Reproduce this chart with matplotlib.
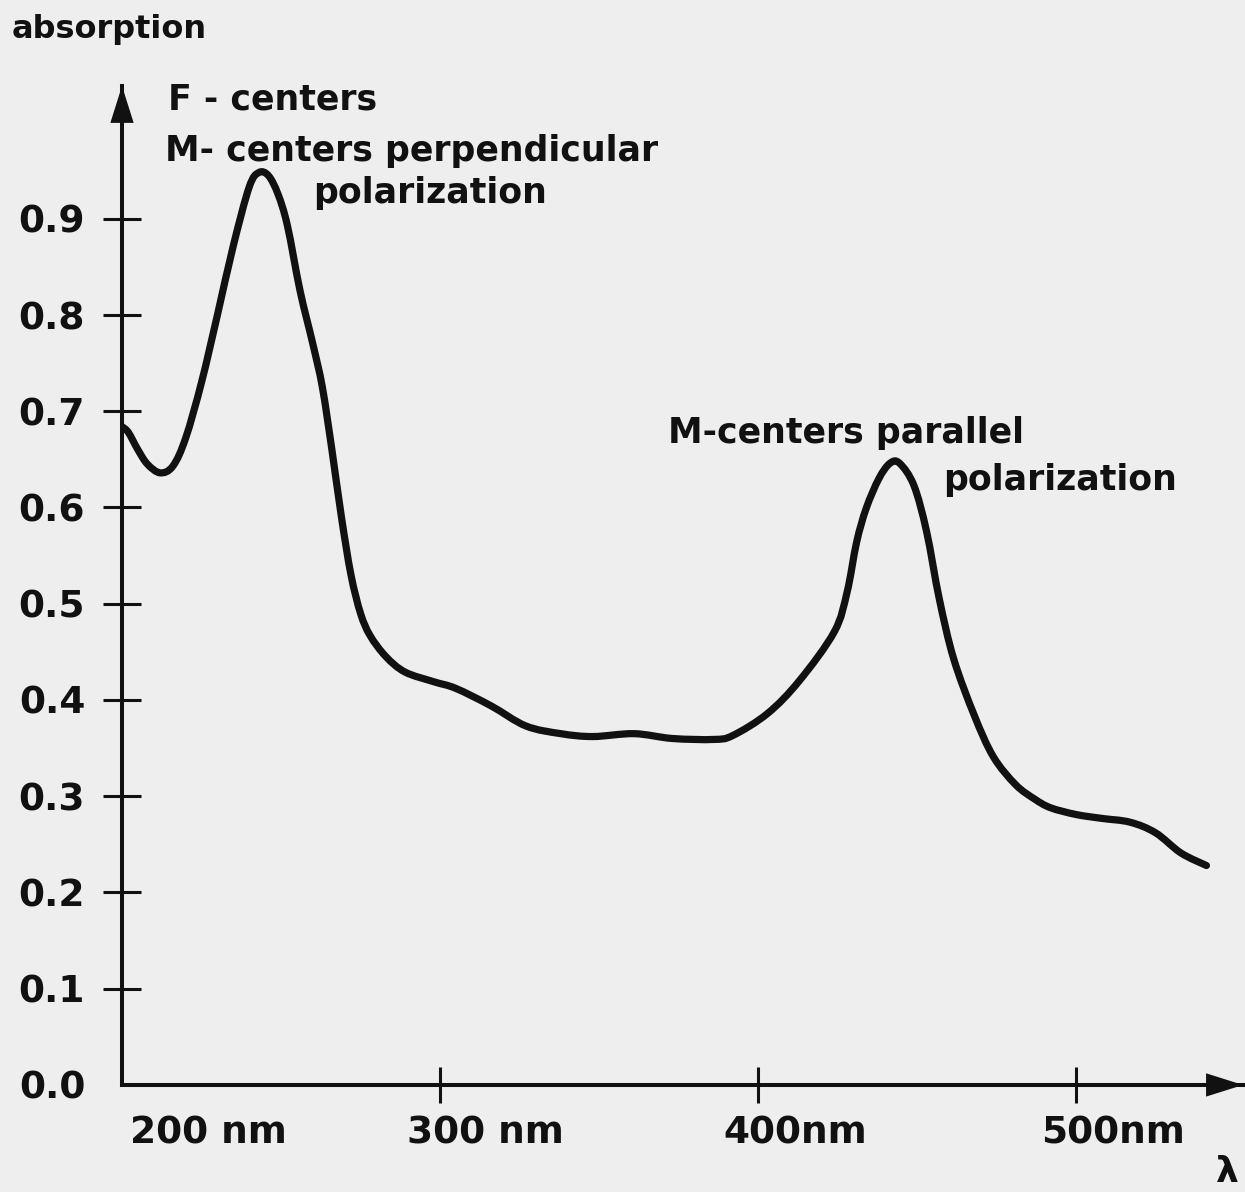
import matplotlib
matplotlib.use('Agg')
import numpy as np
import matplotlib.pyplot as plt
import matplotlib.transforms as mtransforms
from matplotlib.path import Path
from matplotlib.patches import PathPatch

plt.rcParams['font.family'] = ['DejaVu Sans']

# ---------- data ----------
wavelength_nm = [200, 202, 205, 208, 212, 216, 220, 225, 230, 235, 240, 243, 246,
                 249, 252, 256, 260, 263, 266, 269, 272, 275, 278, 283, 289, 298,
                 305, 316, 327, 338, 348, 361, 373, 386, 392, 403, 413, 424, 428,
                 431, 434, 438, 441.5, 444.5, 449, 453, 457, 461.5, 468, 474, 481,
                 487, 492, 500, 508, 517, 525, 533, 541]
absorption = [0.684, 0.678, 0.660, 0.645, 0.636, 0.643, 0.672, 0.730, 0.800, 0.872,
              0.933, 0.948, 0.945, 0.926, 0.893, 0.825, 0.770, 0.725, 0.660, 0.590,
              0.530, 0.490, 0.467, 0.445, 0.429, 0.419, 0.412, 0.394, 0.373, 0.365,
              0.362, 0.365, 0.360, 0.359, 0.363, 0.386, 0.420, 0.471, 0.512, 0.564,
              0.599, 0.630, 0.646, 0.646, 0.623, 0.575, 0.505, 0.443, 0.384, 0.341,
              0.312, 0.297, 0.288, 0.281, 0.277, 0.273, 0.262, 0.241, 0.228]

y_ticks = [0.0, 0.1, 0.2, 0.3, 0.4, 0.5, 0.6, 0.7, 0.8, 0.9]
y_tick_labels = ['0.0', '0.1', '0.2', '0.3', '0.4', '0.5', '0.6', '0.7', '0.8', '0.9']
x_ticks = [200, 300, 400, 500]
x_tick_labels = ['200 nm', '300 nm', '400nm', '500nm']

# label text and anchor (nm, absorption)
annotations = [
    ('F - centers', 214.5, 1.014),
    ('M- centers perpendicular', 213.5, 0.960),
    ('polarization', 260.0, 0.916),
    ('M-centers parallel', 371.7, 0.667),
    ('polarization', 458.2, 0.618),
]

# ---------- figure ----------
bg = '#eeeeee'
ink = '#111111'
fig = plt.figure(figsize=(12.45, 11.92), dpi=100, facecolor=bg)
ax = fig.add_axes([0.098, 0.0898, 0.9004, 0.8381], facecolor=bg)

# hand-drawn look: run a smooth (Catmull-Rom) bezier through the read points
pts = np.column_stack([wavelength_nm, absorption])
ext = np.vstack([pts[0], pts, pts[-1]])
verts = [pts[0]]
codes = [Path.MOVETO]
for i in range(1, len(ext) - 2):
    p0, p1, p2, p3 = ext[i - 1], ext[i], ext[i + 1], ext[i + 2]
    verts += [p1 + (p2 - p0) / 6, p2 - (p3 - p1) / 6, p2]
    codes += [Path.CURVE4] * 3
curve = PathPatch(Path(verts, codes), fill=False, edgecolor=ink, lw=5.2,
                  joinstyle='round', capstyle='round', transform=ax.transData)
ax.add_patch(curve)

ax.set_xlim(200, 552.5)
ax.set_ylim(0, 1.038)

for side in ['top', 'right']:
    ax.spines[side].set_visible(False)
for side in ['left', 'bottom']:
    ax.spines[side].set_linewidth(2.9)
    ax.spines[side].set_color(ink)

ax.set_yticks(y_ticks)
ax.set_yticklabels(y_tick_labels, fontweight='bold')
ax.set_xticks(x_ticks)
ax.set_xticklabels(x_tick_labels, fontweight='bold')
ax.tick_params(axis='y', direction='inout', length=27, width=2.2, color=ink,
               pad=13, labelsize=27, labelcolor=ink)
ax.tick_params(axis='x', direction='inout', length=26, width=2.2, color=ink,
               pad=9, labelsize=27, labelcolor=ink)
# no tick marks at the origin
ax.yaxis.get_major_ticks()[0].tick1line.set_visible(False)
ax.xaxis.get_major_ticks()[0].tick1line.set_visible(False)

# shift x labels so the number sits on the tick and "nm" trails it
x_label_shift_px = [8, -33, -35, -35]
for lab, dx in zip(ax.get_xticklabels(), x_label_shift_px):
    lab.set_horizontalalignment('left')
    lab.set_transform(lab.get_transform() +
                      mtransforms.ScaledTranslation(dx / 100, 0, fig.dpi_scale_trans))

# arrow heads on both axes
head = dict(arrowstyle='-|>,head_length=1.33,head_width=0.42', mutation_scale=20,
            lw=0, color=ink, shrinkA=0, shrinkB=0)
ax.annotate('', xy=(0, 1), xytext=(0, 0.9), xycoords='axes fraction',
            arrowprops=head, annotation_clip=False)
ax.annotate('', xy=(1, 0), xytext=(0.9, 0), xycoords='axes fraction',
            arrowprops=head, annotation_clip=False)

for txt, x, y in annotations:
    ax.text(x, y, txt, fontsize=25, fontweight='bold', color=ink,
            ha='left', va='baseline', clip_on=False)

fig.text(12 / 1245, 1 - 14 / 1192, 'absorption', fontsize=23, fontweight='bold',
         color=ink, ha='left', va='top')
fig.text(1227 / 1245, 1 - 1172 / 1192, 'λ', fontsize=26, fontweight='bold',
         color=ink, ha='center', va='center')

fig.savefig('out.png', dpi=100, facecolor=bg)
